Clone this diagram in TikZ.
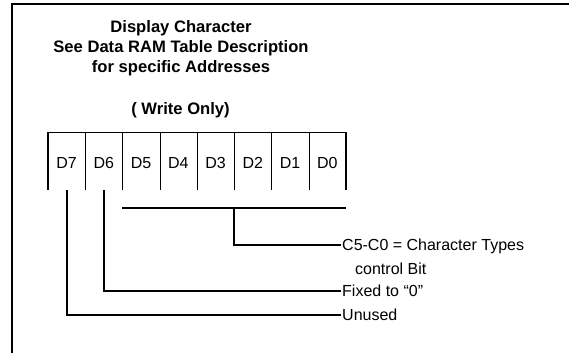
\documentclass[tikz,border=0pt]{standalone}
\usepackage{fontspec}
\setmainfont{Liberation Sans}
\usetikzlibrary{calc}
\begin{document}
\begin{tikzpicture}[x=1pt,y=-1pt,
  frameline/.style={line width=2.2pt},
  conn/.style={line width=2pt},
  outerline/.style={line width=1.5pt},
  innerline/.style={line width=0.9pt},
  cell/.style={minimum width=37.25pt,minimum height=57.5pt,inner sep=0pt,
    text height=14.4pt,text depth=0pt,font=\fontsize{16}{19}\selectfont},
  lbl/.style={anchor=west,inner sep=1pt,text height=11.4pt,text depth=0pt,
    font=\fontsize{16}{19}\selectfont},
  title/.style={align=center,inner sep=0pt,font=\fontsize{16.6}{20}\selectfont\bfseries}]
\useasboundingbox (0,0) rectangle (569,353);
% frame
\draw[frameline] (12,353) -- (12,4) -- (569,4);
% title
\node[title] (t1) at (181,48) {Display Character\\See Data RAM Table Description\\for specific Addresses};
\node[title] (t2) at (180.5,110) {( Write Only)};
% cells
\foreach \n [count=\i from 0] in {7,6,5,4,3,2,1,0}{
  \node[cell] (d\n) at (48+18.625+37.25*\i,161.25) {D\n};
}
\foreach \n in {7,6,5,4,3,2,1}{
  \draw[innerline] (d\n.north east) -- (d\n.south east);
}
\draw[outerline] (d7.south west) -- (d7.north west) -- (d0.north east) -- (d0.south east);
% labels
\node[lbl] (c5) at (341,245) {C5-C0 = Character Types};
\node[anchor=base west,inner sep=0pt,font=\fontsize{16}{19}\selectfont] (ctl) at (355,274) {control Bit};
\node[lbl] (fixed) at (341,290.5) {Fixed to “0”};
\node[lbl] (unused) at (341,314.5) {Unused};
% connectors
\coordinate (bl) at ($(d5.south west)+(0,18)$);
\coordinate (br) at ($(d0.south east)+(0,18)$);
\coordinate (bm) at ($(d3.south east)+(0,18)$);
\draw[conn] (bl) -- (br);
\draw[conn] (bm) |- (c5.west);
\draw[conn] (d6.south) |- (fixed.west);
\draw[conn] (d7.south) |- (unused.west);
\end{tikzpicture}
\end{document}
